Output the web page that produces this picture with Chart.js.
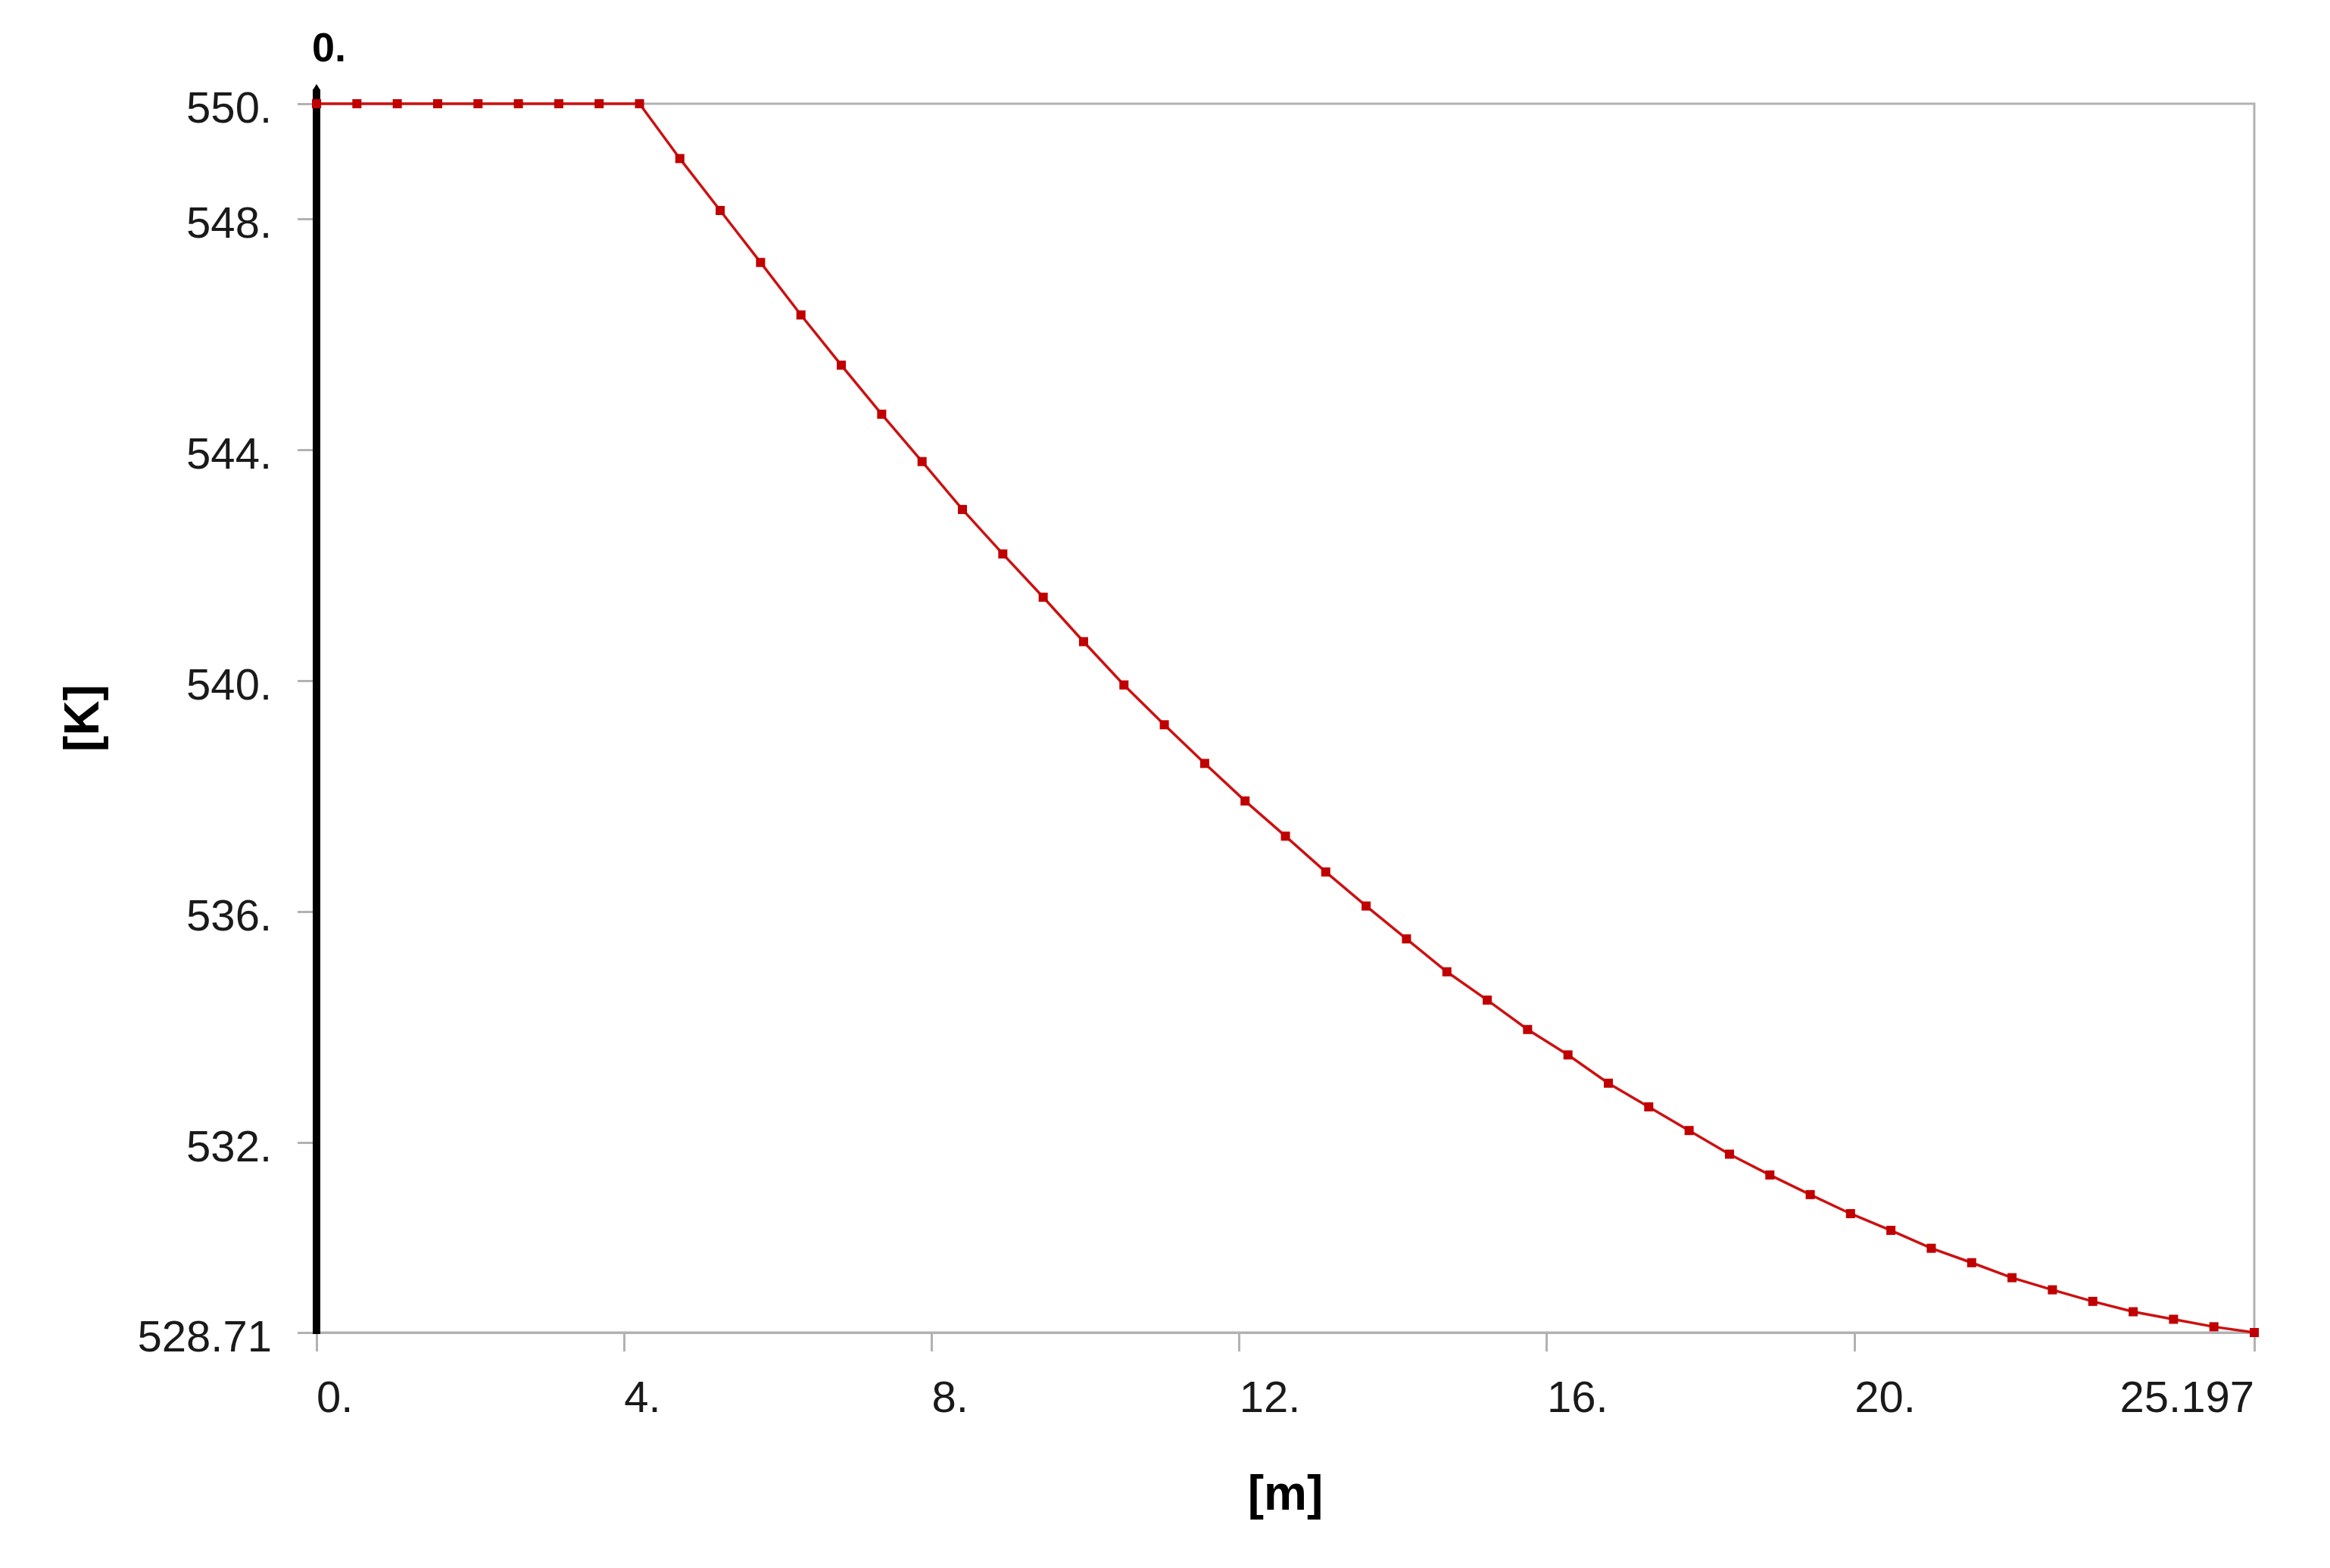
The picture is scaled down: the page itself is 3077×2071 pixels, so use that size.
<!DOCTYPE html>
<html>
<head>
<meta charset="utf-8">
<script src="https://cdn.jsdelivr.net/npm/chart.js@4/dist/chart.umd.min.js"></script>
<style>
  html, body { margin: 0; padding: 0; background: #ffffff; }
  #wrap { width: 3077px; height: 2071px; }
</style>
</head>
<body>
<div id="wrap"><canvas id="c" width="3077" height="2071"></canvas></div>
<script>
// ---- data ----
const positions = [
  0, 0.525, 1.050, 1.575, 2.100, 2.625, 3.150, 3.675, 4.200, 4.724,
  5.249, 5.774, 6.299, 6.824, 7.349, 7.874, 8.399, 8.924, 9.449, 9.974,
  10.499, 11.024, 11.549, 12.074, 12.599, 13.123, 13.648, 14.173, 14.698, 15.223,
  15.748, 16.273, 16.798, 17.323, 17.848, 18.373, 18.898, 19.423, 19.947, 20.472,
  20.997, 21.522, 22.047, 22.572, 23.097, 23.622, 24.147, 24.672, 25.197
];
const temperatures = [
  550.00, 550.00, 550.00, 550.00, 550.00, 550.00, 550.00, 550.00, 550.00, 549.05,
  548.15, 547.25, 546.34, 545.47, 544.62, 543.80, 542.97, 542.20, 541.45, 540.68,
  539.93, 539.24, 538.57, 537.92, 537.31, 536.69, 536.10, 535.53, 534.96, 534.47,
  533.96, 533.52, 533.03, 532.62, 532.21, 531.80, 531.44, 531.10, 530.77, 530.48,
  530.17, 529.92, 529.66, 529.45, 529.25, 529.07, 528.94, 528.81, 528.71
];
const xTickValues = [0, 4, 8, 12, 16, 20, 25.197];
const xTickLabels = ["0.", "4.", "8.", "12.", "16.", "20.", "25.197"];
const yTickValues = [528.71, 532, 536, 540, 544, 548, 550];
const yTickLabels = ["528.71", "532.", "536.", "540.", "544.", "548.", "550."];
const xMin = 0, xMax = 25.197;
const yMin = 528.71, yMax = 550;
const probePosition = 0;
const probeLabel = "0.";
const xTitle = "[m]";
const yTitle = "[K]";

// ---- styling ----
const FONT = '"Liberation Sans Narrow", "Liberation Sans", "DejaVu Sans Condensed", sans-serif';
const GRAY = '#b2b2b2';
const TEXT = '#1a1a1a';

const xPoints = positions.map((p, i) => ({ x: p, y: temperatures[i] }));

const frameAndProbe = {
  id: 'frameAndProbe',
  beforeDraw(chart) {
    const xs = chart.scales.x;
    const xi = xs.getLabelItems();
    xi.forEach((it, i) => {
      it.options.textAlign = (i === xi.length - 1) ? 'right' : 'left';
    });
    const ys = chart.scales.y;
    ys.getLabelItems().forEach(it => {
      if (!it._shifted) { it.options.translation[1] += 9; it._shifted = true; }
    });
  },
  beforeDatasetsDraw(chart) {
    const { ctx, chartArea: a, scales } = chart;
    ctx.save();
    ctx.strokeStyle = GRAY;
    ctx.lineWidth = 3;
    ctx.strokeRect(a.left, a.top, a.right - a.left, a.bottom - a.top);
    const px = scales.x.getPixelForValue(probePosition);
    const topY = a.top - 26;
    const hw = 5;
    ctx.fillStyle = '#000000';
    ctx.fillRect(px - hw, topY + 7, hw * 2, a.bottom + 2 - topY - 7);
    ctx.beginPath();
    ctx.moveTo(px - hw, topY + 8);
    ctx.lineTo(px, topY);
    ctx.lineTo(px + hw, topY + 8);
    ctx.closePath();
    ctx.fill();
    ctx.font = 'bold 54px ' + FONT;
    ctx.fillStyle = '#000000';
    ctx.textAlign = 'left';
    ctx.textBaseline = 'middle';
    ctx.fillText(probeLabel, px - 6, 66);
    ctx.restore();
  }
};

new Chart(document.getElementById('c'), {
  type: 'line',
  data: {
    datasets: [{
      data: xPoints,
      borderColor: '#cc1111',
      borderWidth: 3.5,
      pointStyle: 'rect',
      pointRadius: 8.5,
      pointBackgroundColor: '#c00000',
      pointBorderWidth: 0,
      tension: 0,
      clip: false
    }]
  },
  options: {
    responsive: false,
    animation: false,
    devicePixelRatio: 1,
    layout: { padding: { left: 0, right: 100, top: 137, bottom: 0 } },
    plugins: { legend: { display: false }, tooltip: { enabled: false } },
    scales: {
      x: {
        type: 'linear',
        min: xMin, max: xMax,
        afterBuildTicks: s => { s.ticks = xTickValues.map(v => ({ value: v })); },
        afterFit: s => { s.height = 311; s.paddingLeft = 0; s.paddingRight = 0; },
        ticks: {
          align: 'inner',
          autoSkip: false,
          maxRotation: 0,
          padding: 29,
          color: TEXT,
          font: { family: FONT, size: 58 },
          callback: (v, i) => xTickLabels[i]
        },
        grid: { display: true, drawOnChartArea: false, drawTicks: true, tickLength: 25, color: GRAY, lineWidth: 3 },
        border: { display: true, color: GRAY, width: 3 },
        title: {
          display: true, text: xTitle, color: '#000000',
          font: { family: FONT, size: 64, weight: 'bold' },
          padding: { top: 0, bottom: 56 }
        }
      },
      y: {
        type: 'linear',
        min: yMin, max: yMax,
        afterBuildTicks: s => { s.ticks = yTickValues.map(v => ({ value: v })); },
        afterFit: s => { s.width = 418; s.paddingTop = 0; s.paddingBottom = 0; },
        ticks: {
          autoSkip: false,
          padding: 34,
          color: TEXT,
          font: { family: FONT, size: 58 },
          callback: (v, i) => yTickLabels[i]
        },
        grid: { display: true, drawOnChartArea: false, drawTicks: true, tickLength: 25, color: GRAY, lineWidth: 3 },
        border: { display: true, color: GRAY, width: 3 },
        title: {
          display: true, text: yTitle, color: '#000000',
          font: { family: FONT, size: 64, weight: 'bold' },
          padding: { top: 74, bottom: 0 }
        }
      }
    }
  },
  plugins: [frameAndProbe]
});
</script>
</body>
</html>
